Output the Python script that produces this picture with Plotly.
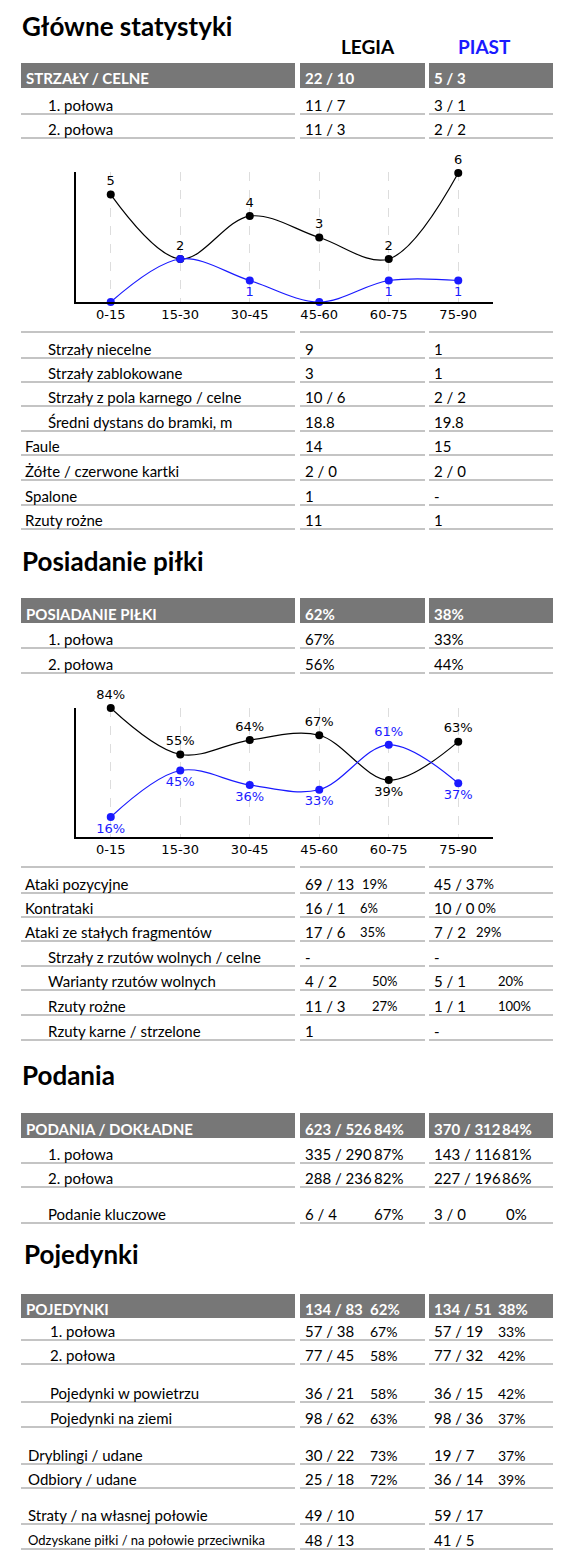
import plotly.graph_objects as go

W, H = 561, 1558
FONT = "Lato"

# ---------------- data ----------------
teams = ["LEGIA", "PIAST"]
periods = ["0-15", "15-30", "30-45", "45-60", "60-75", "75-90"]

shots_legia = [5, 2, 4, 3, 2, 6]
shots_piast = [0, 2, 1, 0, 1, 1]
shots_piast_text = ["", "", "1", "", "1", "1"]

poss_legia = [84, 55, 64, 67, 39, 63]
poss_piast = [16, 45, 36, 33, 61, 37]

s1_header = ["STRZAŁY / CELNE", "22 / 10", "5 / 3"]
s1_labels = ["1. połowa", "2. połowa", "Strzały niecelne", "Strzały zablokowane",
             "Strzały z pola karnego / celne", "Średni dystans do bramki, m", "Faule",
             "Żółte / czerwone kartki", "Spalone", "Rzuty rożne"]
s1_legia = ["11 / 7", "11 / 3", "9", "3", "10 / 6", "18.8", "14", "2 / 0", "1", "11"]
s1_piast = ["3 / 1", "2 / 2", "1", "1", "2 / 2", "19.8", "15", "2 / 0", "-", "1"]

s2_header = ["POSIADANIE PIŁKI", "62%", "38%"]
s2_labels = ["1. połowa", "2. połowa", "Ataki pozycyjne", "Kontrataki",
             "Ataki ze stałych fragmentów", "Strzały z rzutów wolnych / celne",
             "Warianty rzutów wolnych", "Rzuty rożne", "Rzuty karne / strzelone"]
s2_legia = ["67%", "56%", "69 / 13", "16 / 1", "17 / 6", "-", "4 / 2", "11 / 3", "1"]
s2_legia_pct = ["", "", "19%", "6%", "35%", "", "50%", "27%", ""]
s2_piast = ["33%", "44%", "45 / 3", "10 / 0", "7 / 2", "-", "5 / 1", "1 / 1", "-"]
s2_piast_pct = ["", "", "7%", "0%", "29%", "", "20%", "100%", ""]

s3_header = ["PODANIA / DOKŁADNE", "623 / 526", "84%", "370 / 312", "84%"]
s3_labels = ["1. połowa", "2. połowa", "Podanie kluczowe"]
s3_legia = ["335 / 290", "288 / 236", "6 / 4"]
s3_legia_pct = ["87%", "82%", "67%"]
s3_piast = ["143 / 116", "227 / 196", "3 / 0"]
s3_piast_pct = ["81%", "86%", "0%"]

s4_header = ["POJEDYNKI", "134 / 83", "62%", "134 / 51", "38%"]
s4_labels = ["1. połowa", "2. połowa", "Pojedynki w powietrzu", "Pojedynki na ziemi",
             "Dryblingi / udane", "Odbiory / udane", "Straty / na własnej połowie",
             "Odzyskane piłki / na połowie przeciwnika"]
s4_legia = ["57 / 38", "77 / 45", "36 / 21", "98 / 62", "30 / 22", "25 / 18", "49 / 10", "48 / 13"]
s4_legia_pct = ["67%", "58%", "58%", "63%", "73%", "72%", "", ""]
s4_piast = ["57 / 19", "77 / 32", "36 / 15", "98 / 36", "19 / 7", "36 / 14", "59 / 17", "41 / 5"]
s4_piast_pct = ["33%", "42%", "42%", "37%", "37%", "39%", "", ""]

# ---------------- layout helpers ----------------
def yp(py):
    return 1 - py / H

def xp(px):
    return px / W

annots = []
shapes = []

def txt(x, y, s, size=15, color="black", bold=False, family=FONT, anchor="left"):
    annots.append(dict(x=xp(x), y=yp(y), xref="paper", yref="paper", text=("<b>%s</b>" % s) if bold else s,
                       showarrow=False, xanchor=anchor, yanchor="middle",
                       font=dict(family=family, size=size, color=color)))

def hline(x0, x1, y, color="#8a8a8a", w=1.2):
    shapes.append(dict(type="line", xref="paper", yref="paper", x0=xp(x0), x1=xp(x1), y0=yp(y), y1=yp(y),
                       line=dict(color=color, width=w)))

def rect(x0, x1, y0, y1, color="#777777"):
    shapes.append(dict(type="rect", xref="paper", yref="paper", x0=xp(x0), x1=xp(x1), y0=yp(y1), y1=yp(y0),
                       fillcolor=color, line=dict(width=0)))

C0 = (13, 287)
C1 = (292, 417)
C2 = (421, 547)

def row_lines(y):
    for c in (C0, C1, C2):
        hline(c[0], c[1], y)

def header(y0, y1, cells, pct_x=None):
    for c in (C0, C1, C2):
        rect(c[0], c[1], y0, y1)
    ym = (y0 + y1) / 2 + 3
    txt(C0[0] + 3, ym, cells[0], 15, "white", True)
    if len(cells) == 3:
        txt(C1[0] + 3, ym, cells[1], 15, "white", True)
        txt(C2[0] + 3, ym, cells[2], 15, "white", True)
    else:
        txt(C1[0] + 3, ym, cells[1], 15, "white", True)
        txt(pct_x[0], ym, cells[2], 15, "white", True)
        txt(C2[0] + 3, ym, cells[3], 15, "white", True)
        txt(pct_x[1], ym, cells[4], 15, "white", True)

# ---------------- section 1 ----------------
txt(12, 18, "Główne statystyki", 26, bold=True)
txt(360, 38, teams[0], 19, "black", True, anchor="center")
txt(476, 38, teams[1], 19, "#1a1aff", True, anchor="center")
header(55, 80, s1_header)
s1_y = [97, 121, 341, 365, 389, 414, 438, 463, 488, 512]
s1_x = [38, 38, 38, 38, 38, 38, 15, 15, 15, 15]
hline(C0[0], C0[1], 324); hline(C1[0], C1[1], 324); hline(C2[0], C2[1], 324)
for i, lab in enumerate(s1_labels):
    y = s1_y[i]
    txt(s1_x[i], y, lab)
    txt(C1[0] + 3, y, s1_legia[i])
    txt(C2[0] + 3, y, s1_piast[i])
    row_lines(y + 9)

# ---------------- section 2 ----------------
txt(12, 553, "Posiadanie piłki", 26, bold=True)
header(590, 615, s2_header)
s2_y = [631, 656, 876, 900, 924, 949, 973, 998, 1023]
s2_x = [15 + 23, 38, 15, 15, 15, 38, 38, 38, 38]
s2_lpx = [0, 0, 352, 350, 350, 0, 362, 362, 0]
s2_ppx = [0, 0, 466, 468, 466, 0, 488, 488, 0]
hline(C0[0], C0[1], 859); hline(C1[0], C1[1], 859); hline(C2[0], C2[1], 859)
for i, lab in enumerate(s2_labels):
    y = s2_y[i]
    txt(s2_x[i], y, lab)
    txt(C1[0] + 3, y, s2_legia[i])
    txt(C2[0] + 3, y, s2_piast[i])
    if s2_legia_pct[i]:
        txt(s2_lpx[i], y, s2_legia_pct[i], 13)
    if s2_piast_pct[i]:
        txt(s2_ppx[i], y, s2_piast_pct[i], 13)
    row_lines(y + 9)

# ---------------- section 3 ----------------
txt(12, 1067, "Podania", 26, bold=True)
header(1105, 1130, s3_header, pct_x=(364, 492))
s3_y = [1146, 1170, 1206]
for i, lab in enumerate(s3_labels):
    y = s3_y[i]
    txt(38, y, lab)
    txt(C1[0] + 3, y, s3_legia[i])
    txt(364, y, s3_legia_pct[i])
    txt(C2[0] + 3, y, s3_piast[i])
    txt(492 if i < 2 else 496, y, s3_piast_pct[i])
    row_lines(y + 9)

# ---------------- section 4 ----------------
txt(14, 1246, "Pojedynki", 26, bold=True)
header(1286, 1310, s4_header, pct_x=(360, 488))
s4_y = [1323, 1347, 1385, 1410, 1447, 1471, 1507, 1532]
s4_x = [40, 40, 40, 40, 18, 18, 18, 18]
for i, lab in enumerate(s4_labels):
    y = s4_y[i]
    txt(s4_x[i], y, lab, 13 if i == 7 else 15)
    txt(C1[0] + 3, y, s4_legia[i])
    txt(C2[0] + 3, y, s4_piast[i])
    if s4_legia_pct[i]:
        txt(360, y, s4_legia_pct[i], 14)
    if s4_piast_pct[i]:
        txt(488, y, s4_piast_pct[i], 14)
    row_lines(y + 9)

# ---------------- charts ----------------
CF = dict(family="DejaVu Sans", size=13)
fig = go.Figure()
fig.add_trace(go.Scatter(x=periods, y=shots_legia, mode="lines+markers+text", line=dict(shape="spline", color="black", width=1.2),
                         marker=dict(size=8, color="black"), text=[str(v) for v in shots_legia], textposition="top center",
                         textfont=dict(CF, color="black"), cliponaxis=False, xaxis="x", yaxis="y"))
fig.add_trace(go.Scatter(x=periods, y=shots_piast, mode="lines+markers+text", line=dict(shape="spline", color="#1a1aff", width=1.2),
                         marker=dict(size=8, color="#1a1aff"), text=shots_piast_text, textposition="bottom center",
                         textfont=dict(CF, color="#1a1aff"), cliponaxis=False, xaxis="x", yaxis="y"))
lpos = ["top center"] * 4 + ["bottom center", "top center"]
ppos = ["bottom center"] * 4 + ["top center", "bottom center"]
fig.add_trace(go.Scatter(x=periods, y=poss_legia, mode="lines+markers+text", line=dict(shape="spline", color="black", width=1.2),
                         marker=dict(size=8, color="black"), text=["%d%%" % v for v in poss_legia], textposition=lpos,
                         textfont=dict(CF, color="black"), cliponaxis=False, xaxis="x2", yaxis="y2"))
fig.add_trace(go.Scatter(x=periods, y=poss_piast, mode="lines+markers+text", line=dict(shape="spline", color="#1a1aff", width=1.2),
                         marker=dict(size=8, color="#1a1aff"), text=["%d%%" % v for v in poss_piast], textposition=ppos,
                         textfont=dict(CF, color="#1a1aff"), cliponaxis=False, xaxis="x2", yaxis="y2"))

xa = dict(type="category", range=[-0.5, 5.5], showline=True, linecolor="black", linewidth=1.5,
          showgrid=True, gridcolor="#dddddd", griddash="dash", ticks="", tickfont=dict(CF, color="black"), zeroline=False,
          fixedrange=True)
ya = dict(showline=True, linecolor="black", linewidth=1.5, showgrid=False, zeroline=False, showticklabels=False,
          ticks="", fixedrange=True)

fig.update_layout(
    width=W, height=H, margin=dict(l=0, r=0, t=0, b=0),
    paper_bgcolor="white", plot_bgcolor="white", showlegend=False,
    xaxis=dict(xa, domain=[xp(68), xp(485)], anchor="y"),
    yaxis=dict(ya, domain=[yp(294), yp(164)], range=[0, 6.05], anchor="x"),
    xaxis2=dict(xa, domain=[xp(68), xp(485)], anchor="y2"),
    yaxis2=dict(ya, domain=[yp(829), yp(700)], range=[3.5, 84], anchor="x2"),
    annotations=annots, shapes=shapes,
)
fig.write_html("out.html")
